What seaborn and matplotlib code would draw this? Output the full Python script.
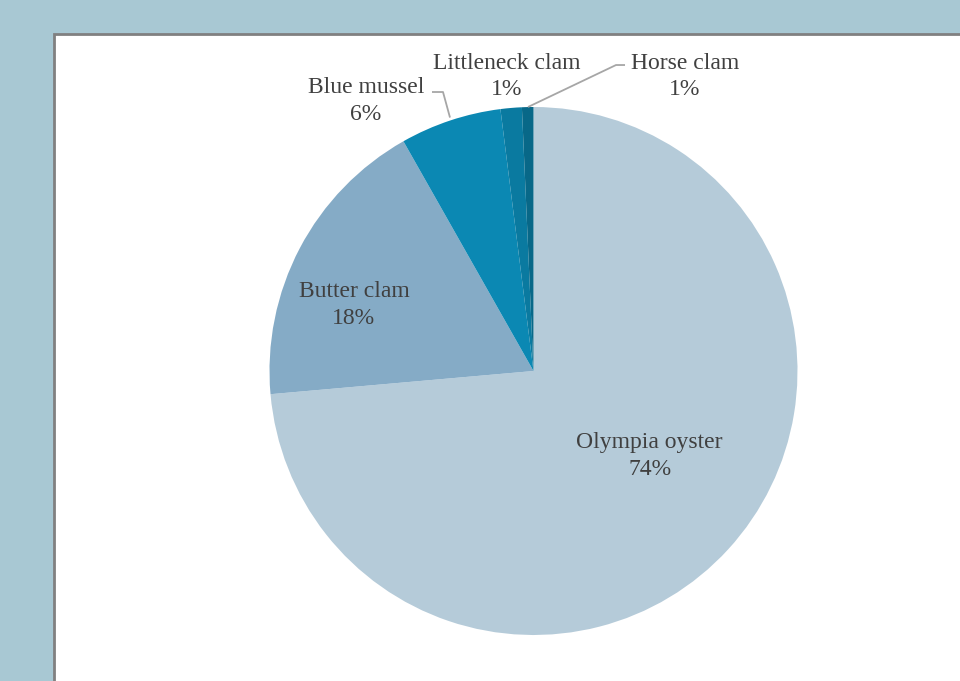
import matplotlib
matplotlib.use("Agg")
import matplotlib.pyplot as plt
from matplotlib.patches import Rectangle
import seaborn as sns

# Share of shellfish remains by species (percent)
species = ["Olympia oyster", "Butter clam", "Blue mussel", "Littleneck clam", "Horse clam"]
shares = [73.6, 18.2, 6.2, 1.3, 0.7]
slice_colors = ["#b5cbd9", "#85abc6", "#0b88b3", "#0a7aa0", "#086888"]

# Label anchor points (pie radius = 1)
label_x = [0.44, -0.68, -0.635, -0.102, 0.574]
label_y = [-0.321, 0.250, 1.022, 1.116, 1.116]

sns.set_theme(style="white")
plt.rcParams["font.family"] = ["Liberation Serif", "DejaVu Serif"]

W, H, DPI = 960, 681, 100
fig = plt.figure(figsize=(W / DPI, H / DPI), dpi=DPI)
fig.patch.set_facecolor("#a8c8d3")

# White panel with a grey top/left border (runs off the right and bottom edges)
panel = Rectangle((54 / W, -0.1), 1.0, 1.1 - 34 / H, transform=fig.transFigure,
                  facecolor="white", edgecolor="#808080", linewidth=2, zorder=-10)
fig.patches.append(panel)

cx, cy, r = 533.5, 371, 264
ax = fig.add_axes([(cx - r) / W, (H - cy - r) / H, 2 * r / W, 2 * r / H])
ax.set_zorder(5)
ax.set_facecolor("none")

palette = sns.color_palette(slice_colors)
ax.pie(shares, colors=palette, startangle=90, counterclock=False,
       wedgeprops=dict(linewidth=0))
ax.set_xlim(-1, 1)
ax.set_ylim(-1, 1)
ax.set_aspect("equal")
ax.axis("off")

total = sum(shares)
for name, val, x, y in zip(species, shares, label_x, label_y):
    ax.text(x, y, f"{name}\n{round(100 * val / total):.0f}%", ha="center", va="center",
            fontsize=17, color="#404040", linespacing=1.35)

# Leader lines for the small slices
lead = dict(color="#a6a6a6", linewidth=1.3, solid_capstyle="butt", clip_on=False)
ax.plot([-0.3845, -0.3428, -0.3163], [1.0568, 1.0568, 0.96], **lead)
ax.plot([0.3466, 0.3125, -0.0208], [1.159, 1.159, 1.0], **lead)

fig.savefig("out.png", dpi=DPI, facecolor=fig.get_facecolor())
